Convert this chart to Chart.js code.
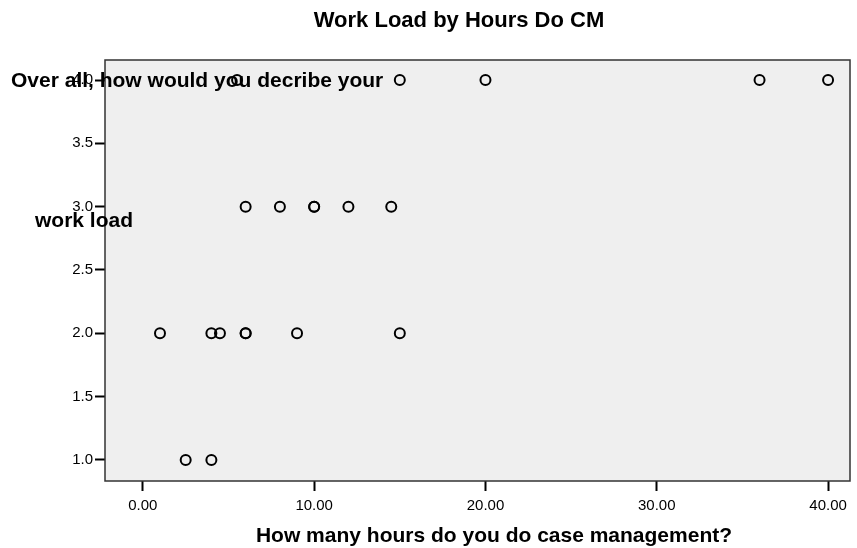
<!DOCTYPE html>
<html>
<head>
<meta charset="utf-8">
<script src="https://cdn.jsdelivr.net/npm/chart.js@4/dist/chart.umd.min.js"></script>
<style>
  html, body { margin: 0; padding: 0; background: #ffffff; }
  #wrap { width: 857px; height: 548px; position: relative; }
</style>
</head>
<body>
<div id="wrap"><canvas id="c" width="857" height="548"></canvas></div>
<script>
// ---- data ----
const chartTitle = "Work Load by Hours Do CM";
const xAxisTitle = "How many hours do you do case management?";
const yAxisTitleLines = ["Over all, how would you decribe your", "work load"];
const hoursWorkload4 = [5.5, 15, 20, 36, 40];
const hoursWorkload3 = [6, 8, 10, 10, 12, 14.5];
const hoursWorkload2 = [1, 4, 4.5, 6, 6, 9, 15];
const hoursWorkload1 = [2.5, 4];
const xTickValues = [0, 10, 20, 30, 40];
const yTickValues = [1.0, 1.5, 2.0, 2.5, 3.0, 3.5, 4.0];

const points = [];
[[1, hoursWorkload1], [2, hoursWorkload2], [3, hoursWorkload3], [4, hoursWorkload4]].forEach(([y, xs]) => {
  xs.forEach(x => points.push({ x: x, y: y }));
});

const plotBg = {
  id: 'plotBg',
  beforeDraw(chart) {
    const { ctx, chartArea: a } = chart;
    ctx.save();
    ctx.fillStyle = '#efefef';
    ctx.fillRect(a.left, a.top, a.right - a.left, a.bottom - a.top);
    ctx.restore();
  },
  afterDraw(chart) {
    const { ctx, chartArea: a } = chart;
    ctx.save();
    ctx.strokeStyle = '#333333';
    ctx.lineWidth = 1.5;
    ctx.strokeRect(a.left, a.top, a.right - a.left, a.bottom - a.top);
    ctx.fillStyle = '#000';
    ctx.textBaseline = 'middle';
    ctx.font = 'bold 22px "Liberation Sans", Arial, sans-serif';
    ctx.textAlign = 'center';
    ctx.fillText(chartTitle, 459, 21);
    ctx.font = 'bold 21px "Liberation Sans", Arial, sans-serif';
    ctx.fillText(xAxisTitle, 494, 536);
    ctx.textAlign = 'left';
    ctx.fillText(yAxisTitleLines[0], 11, 81);
    ctx.fillText(yAxisTitleLines[1], 35, 221);
    ctx.restore();
  }
};

new Chart(document.getElementById('c'), {
  type: 'scatter',
  data: {
    datasets: [{
      data: points,
      pointRadius: 5,
      pointHoverRadius: 5,
      pointBorderWidth: 2,
      borderColor: '#000000',
      backgroundColor: 'rgba(0,0,0,0)',
      pointStyle: 'circle'
    }]
  },
  options: {
    responsive: false,
    animation: false,
    events: [],
    layout: { padding: { top: 60, right: 5, left: 0, bottom: 0 } },
    plugins: { legend: { display: false }, tooltip: { enabled: false }, title: { display: false } },
    scales: {
      x: {
        type: 'linear',
        min: -2.21,
        max: 41.28,
        afterBuildTicks(scale) { scale.ticks = xTickValues.map(v => ({ value: v })); },
        afterFit(scale) { scale.height = 67; },
        grid: { drawOnChartArea: false, drawTicks: true, tickLength: 10, tickColor: '#000', tickWidth: 2 },
        border: { display: false },
        ticks: {
          color: '#000',
          padding: 6,
          maxRotation: 0,
          autoSkip: false,
          font: { family: '"Liberation Sans", Arial, sans-serif', size: 15 },
          callback: v => Number(v).toFixed(2)
        }
      },
      y: {
        type: 'linear',
        min: 0.834,
        max: 4.158,
        afterBuildTicks(scale) { scale.ticks = yTickValues.map(v => ({ value: v })); },
        afterFit(scale) { scale.width = 105; },
        grid: { drawOnChartArea: false, drawTicks: true, tickLength: 10, tickColor: '#000', tickWidth: 2 },
        border: { display: false },
        ticks: {
          color: '#000',
          padding: 2,
          autoSkip: false,
          font: { family: '"Liberation Sans", Arial, sans-serif', size: 15 },
          callback: v => Number(v).toFixed(1)
        }
      }
    }
  },
  plugins: [plotBg]
});
</script>
</body>
</html>
